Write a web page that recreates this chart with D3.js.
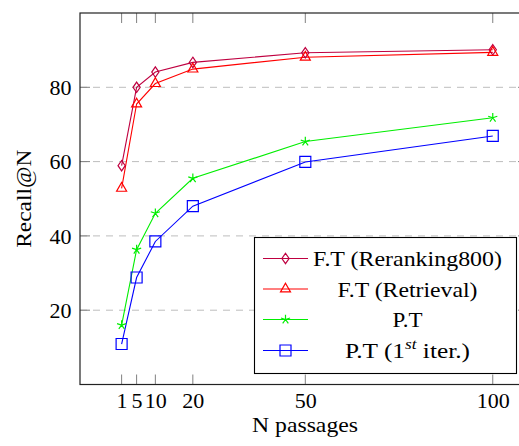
<!DOCTYPE html>
<html><head><meta charset="utf-8">
<script src="https://cdn.jsdelivr.net/npm/d3@7/dist/d3.min.js"></script>
<style>body{margin:0;background:#fff}svg{display:block}svg text{font-family:'Liberation Serif','Tinos','Times New Roman','DejaVu Serif',serif !important;fill:#000}</style>
</head><body>
<script>
const nPassages = [1, 5, 10, 20, 50, 100];
const ftRerank = [58.9, 80.0, 84.1, 86.7, 89.3, 90.1];
const ftRetrieval = [52.8, 75.5, 81.0, 84.9, 88.1, 89.4];
const ptValues = [16.0, 36.3, 46.1, 55.5, 65.4, 71.8];
const pt1Values = [10.9, 28.8, 38.5, 48.0, 59.9, 66.9];
const xTicks = [1, 5, 10, 20, 50, 100];
const yTicks = [20, 40, 60, 80];
const seriesNames = ["F.T (Reranking800)", "F.T (Retrieval)", "P.T", "P.T (1st iter.)"];

const W = 519, H = 446;
const L = 80, R = 528, T = 13, B = 384.5;
const FONT = "'Liberation Serif','Tinos','Times New Roman','DejaVu Serif',serif";
const svg = d3.select("body").append("svg").attr("width", W).attr("height", H)
  .attr("font-family", FONT);
const x = d3.scaleLinear().domain([-10.1, 109.4]).range([L, R]);
const y = d3.scaleLinear().domain([0, 100]).range([B, T]);

const series = [
  {name: seriesNames[0], vals: ftRerank, color: "#bf0040", mark: "diamond", w: 189},
  {name: seriesNames[1], vals: ftRetrieval, color: "#ff0000", mark: "triangle", w: 140},
  {name: seriesNames[2], vals: ptValues, color: "#00ee00", mark: "star", w: 30},
  {name: seriesNames[3], vals: pt1Values, color: "#0000ff", mark: "square", w: 125}
];

// grid
svg.append("g").selectAll("line").data(yTicks).join("line")
  .attr("x1", L).attr("x2", R).attr("y1", d => y(d)).attr("y2", d => y(d))
  .attr("stroke", "#bdbdbd").attr("stroke-width", 1).attr("stroke-dasharray", "7,6");

// ticks
const tickG = svg.append("g").attr("stroke", "#808080").attr("stroke-width", 1);
xTicks.forEach(t => {
  tickG.append("line").attr("x1", x(t)).attr("x2", x(t)).attr("y1", B).attr("y2", B - 10);
  tickG.append("line").attr("x1", x(t)).attr("x2", x(t)).attr("y1", T).attr("y2", T + 10);
});
yTicks.forEach(t => {
  tickG.append("line").attr("x1", L).attr("x2", L + 10).attr("y1", y(t)).attr("y2", y(t));
  tickG.append("line").attr("x1", R).attr("x2", R - 10).attr("y1", y(t)).attr("y2", y(t));
});

// tick labels via axes (no domain/ticks)
const xAxis = svg.append("g").attr("transform", `translate(0,${B})`)
  .call(d3.axisBottom(x).tickValues(xTicks).tickSize(0).tickPadding(0).tickFormat(d3.format("d")));
xAxis.attr("font-family", FONT).attr("font-size", 22);
xAxis.select(".domain").remove();
xAxis.selectAll("text").attr("y", 23.5).attr("dy", null).attr("fill", "#000");
const yAxis = svg.append("g").attr("transform", `translate(${L},0)`)
  .call(d3.axisLeft(y).tickValues(yTicks).tickSize(0).tickPadding(0).tickFormat(d3.format("d")));
yAxis.attr("font-family", FONT).attr("font-size", 22);
yAxis.select(".domain").remove();
yAxis.selectAll("text").attr("x", -8.5).attr("dy", "0.33em").attr("fill", "#000");

function markPath(type) {
  if (type === "diamond") return "M0,-5.2L3.6,0L0,5.2L-3.6,0Z";
  if (type === "triangle") return "M0,-5.8L5,2.9L-5,2.9Z";
  if (type === "square") return "M-5.5,-5.5H5.5V5.5H-5.5Z";
  if (type === "star") {
    let p = "";
    for (let i = 0; i < 5; i++) {
      const a = -Math.PI / 2 + i * 2 * Math.PI / 5;
      p += `M0,0L${(4.8 * Math.cos(a)).toFixed(2)},${(4.8 * Math.sin(a)).toFixed(2)}`;
    }
    return p;
  }
}

const line = d3.line().x((d, i) => x(nPassages[i])).y(d => y(d));
const plot = svg.append("g");
series.forEach(s => {
  plot.append("path").attr("d", line(s.vals)).attr("fill", "none")
    .attr("stroke", s.color).attr("stroke-width", 1.1);
});
series.forEach(s => {
  plot.append("g").selectAll("path").data(s.vals).join("path")
    .attr("transform", (d, i) => `translate(${x(nPassages[i])},${y(d)})`)
    .attr("d", markPath(s.mark)).attr("fill", "none")
    .attr("stroke", s.color).attr("stroke-width", 1.2);
});

// axis box
svg.append("rect").attr("x", L).attr("y", T).attr("width", R - L).attr("height", B - T)
  .attr("fill", "none").attr("stroke", "#222").attr("stroke-width", 1.2);

// legend
const lg = svg.append("g");
lg.append("rect").attr("x", 254.5).attr("y", 237.5).attr("width", 262).attr("height", 136)
  .attr("fill", "#fff").attr("stroke", "#000").attr("stroke-width", 1.1);
const rowY = [258.5, 289, 319.5, 350.5];
series.forEach((s, i) => {
  const cy = rowY[i];
  lg.append("line").attr("x1", 263).attr("x2", 308).attr("y1", cy).attr("y2", cy)
    .attr("stroke", s.color).attr("stroke-width", 1.1);
  lg.append("path").attr("transform", `translate(285.5,${cy})`).attr("d", markPath(s.mark))
    .attr("fill", "none").attr("stroke", s.color).attr("stroke-width", 1.2);
  const t = lg.append("text").attr("x", 407.5).attr("y", cy + 7.5).attr("text-anchor", "middle")
    .attr("font-size", 22).attr("textLength", s.w).attr("lengthAdjust", "spacingAndGlyphs");
  if (i === 3) {
    t.append("tspan").text("P.T (1");
    t.append("tspan").text("st").attr("font-style", "italic").attr("font-size", 15).attr("dy", -9);
    t.append("tspan").text(" iter.)").attr("dy", 9);
  } else {
    t.text(s.name);
  }
});

// axis labels
svg.append("text").attr("x", 305).attr("y", 432).attr("text-anchor", "middle")
  .attr("font-size", 22).attr("textLength", 106).attr("lengthAdjust", "spacingAndGlyphs")
  .text("N passages");
svg.append("text").attr("transform", `translate(31,${(T + B) / 2}) rotate(-90)`)
  .attr("text-anchor", "middle").attr("font-size", 22)
  .attr("textLength", 98).attr("lengthAdjust", "spacingAndGlyphs").text("Recall@N");
</script>
</body></html>
